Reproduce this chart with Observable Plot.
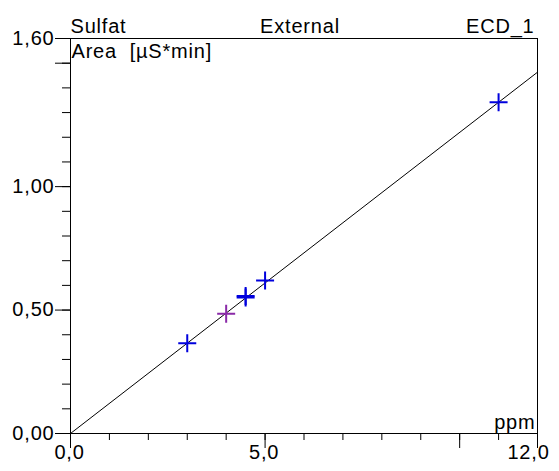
<!DOCTYPE html>
<html>
<head>
<meta charset="utf-8">
<script src="https://cdn.jsdelivr.net/npm/d3@7"></script>
<script src="https://cdn.jsdelivr.net/npm/@observablehq/plot@0.6"></script>
<style>
  html, body { margin: 0; padding: 0; background: #fff; }
</style>
</head>
<body>
<div id="chart"></div>
<script>
// ---- data ----
const conc = [3.0, 4.0, 4.5, 4.5, 5.0, 11.0];          // ppm
const area = [0.366, 0.485, 0.551, 0.557, 0.620, 1.342]; // µS*min
const kind = ["std", "check", "std", "std", "std", "std"];
const fitX = [0, 12];
const fitY = [0, 1.4635];
const xMinorTicks = d3.range(0, 13, 1);
const xMajorTicks = [0, 5, 10, 12];
const xLabelTicks = [0, 5];
const xLastLabel = [12];
const yMinorTicks = d3.range(0, 17).map(i => i / 10);
const yMajorTicks = [0, 0.5, 1.0, 1.5, 1.6];
const yLabelTicks = [0, 0.5, 1.0, 1.6];
const headerLeft = ["Sulfat"];
const headerCenter = ["External"];
const headerRight = ["ECD_1"];
const yTitle = ["Area  [µS*min]"];
const xTitle = ["ppm"];

const points = conc.map((c, i) => ({conc: c, area: area[i], kind: kind[i]}));
const fit = fitX.map((x, i) => ({x, y: fitY[i]}));

const cross = {
  draw(ctx, size) {
    const r = Math.sqrt(size / Math.PI);
    ctx.moveTo(-r, 0); ctx.lineTo(r, 0);
    ctx.moveTo(0, -r); ctx.lineTo(0, r);
  }
};

const fmt1 = d => d.toFixed(1).replace(".", ",");
const fmt2 = d => d.toFixed(2).replace(".", ",");

const chart = Plot.plot({
  width: 559,
  height: 471,
  marginLeft: 70,
  marginRight: 22,
  marginTop: 38,
  marginBottom: 38,
  style: {fontFamily: "'Liberation Sans', Arial, sans-serif", fontSize: "20px", letterSpacing: "0.8px", color: "#000", background: "#fff", overflow: "visible"},
  x: {domain: [0, 12], axis: null},
  y: {domain: [0, 1.6], axis: null},
  color: {domain: ["std", "check"], range: ["#0000dd", "#8a2aa8"]},
  marks: [
    Plot.frame({stroke: "#000", strokeWidth: 1}),
    Plot.axisX({ticks: xMinorTicks, tickSize: 7, tickFormat: () => "", label: null, stroke: "#000"}),
    Plot.axisX({ticks: xMajorTicks, tickSize: 15, tickFormat: () => "", label: null, stroke: "#000"}),
    Plot.axisY({ticks: yMinorTicks, tickSize: 8, tickFormat: () => "", label: null, stroke: "#000"}),
    Plot.axisY({ticks: yMajorTicks, tickSize: 15, tickFormat: () => "", label: null, stroke: "#000"}),
    Plot.text(yLabelTicks, {y: d => d, frameAnchor: "left", textAnchor: "end", lineAnchor: "middle", dx: -16, text: fmt2, fill: "#000"}),
    Plot.text(xLabelTicks, {x: d => d, frameAnchor: "bottom", textAnchor: "middle", lineAnchor: "bottom", dy: 25, dx: -1, text: fmt1, fill: "#000"}),
    Plot.text(xLastLabel, {x: d => d, frameAnchor: "bottom", textAnchor: "middle", lineAnchor: "bottom", dy: 25, dx: -9, text: fmt1, fill: "#000"}),
    Plot.text(headerLeft, {frameAnchor: "top-left", textAnchor: "start", lineAnchor: "bottom", dy: -6, dx: 0, fill: "#000"}),
    Plot.text(headerCenter, {frameAnchor: "top", textAnchor: "middle", lineAnchor: "bottom", dy: -6, dx: -4, fill: "#000"}),
    Plot.text(headerRight, {frameAnchor: "top-right", textAnchor: "end", lineAnchor: "bottom", dy: -6, dx: -3, fill: "#000"}),
    Plot.text(yTitle, {frameAnchor: "top-left", textAnchor: "start", lineAnchor: "bottom", dy: 19, dx: 1, fill: "#000", style: "white-space: pre"}),
    Plot.text(xTitle, {frameAnchor: "bottom-right", textAnchor: "end", lineAnchor: "bottom", dy: -5, dx: -2, fill: "#000"}),
    Plot.line(fit, {x: "x", y: "y", stroke: "#000", strokeWidth: 1}),
    Plot.dot(points, {x: "conc", y: "area", stroke: "kind", symbol: cross, r: 9, strokeWidth: 2, fill: "none"})
  ]
});
document.getElementById("chart").appendChild(chart);
</script>
</body>
</html>
